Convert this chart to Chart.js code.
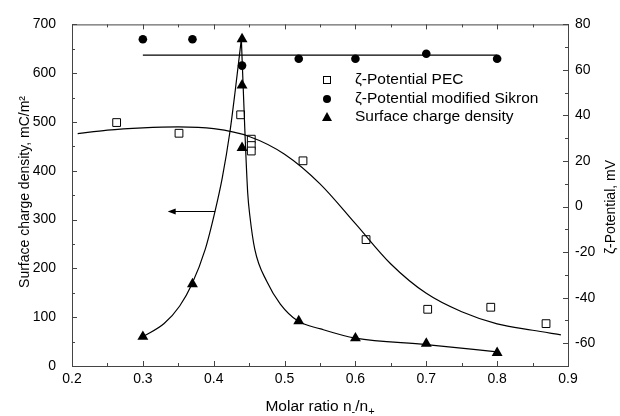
<!DOCTYPE html>
<html>
<head>
<meta charset="utf-8">
<script src="https://cdn.jsdelivr.net/npm/chart.js@4.4.1/dist/chart.umd.min.js"></script>
<style>
  html, body { margin: 0; padding: 0; background: #fff; }
  #wrap { width: 620px; height: 416px; position: relative; }
</style>
</head>
<body>
<div id="wrap"><canvas id="c" width="620" height="416"></canvas></div>
<script>
// ---- Data ----
const xTicks = [0.2, 0.3, 0.4, 0.5, 0.6, 0.7, 0.8, 0.9];
const leftTicks = [0, 100, 200, 300, 400, 500, 600, 700];
const rightTicks = [-60, -40, -20, 0, 20, 40, 60, 80];

// Surface charge density (left axis, mC/m2)
const chargeX = [0.30, 0.37, 0.44, 0.44, 0.44, 0.52, 0.60, 0.70, 0.80];
const chargeY = [60, 168, 670, 575, 447, 92, 57, 46, 27];
// fitted curve, left branch up to the peak and right branch down from it
const chargeLeftX = [0.30, 0.33, 0.352, 0.369, 0.388, 0.402, 0.412, 0.423, 0.430, 0.439];
const chargeLeftY = [60, 87, 123, 167, 239, 318, 385, 481, 560, 670];
const chargeRightX = [0.439, 0.444, 0.448, 0.451, 0.458, 0.475, 0.494, 0.519, 0.551, 0.60, 0.70, 0.80];
const chargeRightY = [670, 481, 354, 308, 239, 173, 127, 92, 76, 57, 44, 29];

// zeta-potential PEC (right axis, mV)
const pecX = [0.263, 0.351, 0.438, 0.453, 0.453, 0.453, 0.526, 0.615, 0.702, 0.791, 0.869];
const pecY = [36.9, 32.2, 40.3, 29.6, 26.8, 24.4, 20.1, -14.5, -45.1, -44.2, -51.4];
const pecFitX = [0.208, 0.25, 0.30, 0.35, 0.40, 0.45, 0.50, 0.55, 0.60, 0.65, 0.70, 0.75, 0.80, 0.85, 0.89];
const pecFitY = [32.0, 33.6, 34.6, 35.0, 34.2, 30.8, 23.0, 10.0, -7.5, -25.2, -38.1, -46.2, -51.5, -54.3, -56.3];

// zeta-potential modified Sikron (right axis, mV)
const sikX = [0.30, 0.37, 0.44, 0.52, 0.60, 0.70, 0.80];
const sikY = [73.5, 73.5, 61.9, 64.9, 64.9, 67.1, 64.9];
const sikFitX = [0.30, 0.80];
const sikFitY = [66.5, 66.5];

// arrow pointing to the left axis (left-axis units)
const arrowX = [0.402, 0.335];
const arrowY = [318, 318];

const legendLabels = ['\u03B6-Potential PEC', '\u03B6-Potential modified Sikron', 'Surface charge density'];

// ---- Chart ----
const FONT = '"Liberation Sans", Arial, Helvetica, sans-serif';
const pts = (xs, ys) => xs.map((x, i) => ({ x: x, y: ys[i] }));

Chart.defaults.font.family = FONT;
Chart.defaults.font.size = 14;
Chart.defaults.color = '#000';

const axisColor = '#444';

const decor = {
  id: 'decor',
  afterDraw(chart) {
    const ctx = chart.ctx;
    const a = chart.chartArea;
    const sx = chart.scales.x, sy = chart.scales.y, sr = chart.scales.y1;
    ctx.save();
    ctx.strokeStyle = axisColor;
    ctx.lineWidth = 1;
    // top border
    ctx.beginPath();
    ctx.moveTo(a.left, a.top + 0.5);
    ctx.lineTo(a.right, a.top + 0.5);
    ctx.stroke();
    // inward ticks
    ctx.beginPath();
    for (let i = 0; i <= 14; i++) {
      const v = 0.2 + i * 0.05;
      const px = Math.round(sx.getPixelForValue(v)) + 0.5;
      const L = i % 2 === 0 ? 5 : 3;
      ctx.moveTo(px, a.bottom); ctx.lineTo(px, a.bottom - L);
      ctx.moveTo(px, a.top); ctx.lineTo(px, a.top + L);
    }
    for (let v = 0; v <= 700; v += 50) {
      const py = Math.round(sy.getPixelForValue(v)) + 0.5;
      const L = v % 100 === 0 ? 5 : 3;
      ctx.moveTo(a.left, py); ctx.lineTo(a.left + L, py);
    }
    for (let v = -70; v <= 80; v += 10) {
      const py = Math.round(sr.getPixelForValue(v)) + 0.5;
      const L = v % 20 === 0 ? 5 : 3;
      ctx.moveTo(a.right, py); ctx.lineTo(a.right - L, py);
    }
    ctx.stroke();

    // arrow
    ctx.strokeStyle = '#000';
    const x0 = sx.getPixelForValue(arrowX[0]), x1 = sx.getPixelForValue(arrowX[1]);
    const y0 = Math.round(sy.getPixelForValue(arrowY[0])) + 0.5, y1 = y0;
    ctx.beginPath();
    ctx.moveTo(x0, y0); ctx.lineTo(x1 + 6, y1);
    ctx.stroke();
    ctx.fillStyle = '#000';
    ctx.beginPath();
    ctx.moveTo(x1, y1); ctx.lineTo(x1 + 8, y1 - 3); ctx.lineTo(x1 + 8, y1 + 3);
    ctx.closePath(); ctx.fill();

    // legend
    const lx = 327, ly = [80, 99, 117], tx = 355;
    ctx.lineWidth = 1;
    ctx.strokeStyle = '#000';
    ctx.fillStyle = '#fff';
    ctx.fillRect(lx - 4, ly[0] - 4, 8, 8);
    ctx.strokeRect(lx - 3.5, ly[0] - 3.5, 7, 7);
    ctx.fillStyle = '#000';
    ctx.beginPath(); ctx.arc(lx, ly[1], 4, 0, Math.PI * 2); ctx.fill();
    ctx.beginPath();
    ctx.moveTo(lx, ly[2] - 5); ctx.lineTo(lx + 5, ly[2] + 4); ctx.lineTo(lx - 5, ly[2] + 4);
    ctx.closePath(); ctx.fill();
    ctx.font = '15.5px ' + FONT;
    ctx.textBaseline = 'middle';
    ctx.textAlign = 'left';
    legendLabels.forEach((t, i) => ctx.fillText(t, tx, ly[i]));

    // axis titles
    ctx.font = '14px ' + FONT;
    ctx.save();
    ctx.translate(25, 192);
    ctx.rotate(-Math.PI / 2);
    ctx.textAlign = 'center';
    ctx.fillText('Surface charge density, mC/m\u00B2', 0, 0);
    ctx.restore();

    ctx.save();
    ctx.translate(611, 207);
    ctx.rotate(-Math.PI / 2);
    ctx.textAlign = 'center';
    ctx.fillText('\u03B6-Potential, mV', 0, 0);
    ctx.restore();

    // x title with subscripts
    const parts = [['Molar ratio n', 15.5, 0], ['-', 11, 5], ['/n', 15.5, 0], ['+', 11, 5]];
    let w = 0;
    parts.forEach(p => { ctx.font = p[1] + 'px ' + FONT; w += ctx.measureText(p[0]).width; });
    let cx = 320 - w / 2;
    const by = 407;
    ctx.textBaseline = 'middle';
    ctx.textAlign = 'left';
    parts.forEach(p => {
      ctx.font = p[1] + 'px ' + FONT;
      ctx.fillText(p[0], cx, by + p[2]);
      cx += ctx.measureText(p[0]).width;
    });
    ctx.restore();
  }
};

const lineDS = (label, data, axis) => ({
  label: label, data: data, yAxisID: axis, showLine: true, borderColor: '#000',
  borderWidth: 1.2, pointRadius: 0, cubicInterpolationMode: 'monotone', fill: false
});

new Chart(document.getElementById('c'), {
  type: 'scatter',
  data: {
    datasets: [
      lineDS('charge fit left', pts(chargeLeftX, chargeLeftY), 'y'),
      lineDS('charge fit right', pts(chargeRightX, chargeRightY), 'y'),
      lineDS('PEC fit', pts(pecFitX, pecFitY), 'y1'),
      lineDS('Sikron fit', pts(sikFitX, sikFitY), 'y1'),
      { label: legendLabels[0], data: pts(pecX, pecY), yAxisID: 'y1', pointStyle: 'rect',
        pointRadius: 5.5, backgroundColor: '#fff', borderColor: '#000', borderWidth: 1 },
      { label: legendLabels[1], data: pts(sikX, sikY), yAxisID: 'y1', pointStyle: 'circle',
        pointRadius: 4.3, backgroundColor: '#000', borderColor: '#000', borderWidth: 0 },
      { label: legendLabels[2], data: pts(chargeX, chargeY), yAxisID: 'y', pointStyle: 'triangle',
        pointRadius: 6.3, backgroundColor: '#000', borderColor: '#000', borderWidth: 0 }
    ]
  },
  options: {
    responsive: false,
    animation: false,
    events: [],
    layout: { padding: { top: 18, left: 0, right: 0, bottom: 0 } },
    plugins: { legend: { display: false }, tooltip: { enabled: false } },
    scales: {
      x: {
        type: 'linear', position: 'bottom', min: 0.2, max: 0.9,
        afterBuildTicks: s => { s.ticks = xTicks.map(v => ({ value: v })); },
        afterFit: s => { s.height = 50; },
        ticks: { callback: v => v.toFixed(1), padding: 5, maxRotation: 0, autoSkip: false },
        grid: { display: false, drawTicks: false },
        border: { display: true, color: axisColor }
      },
      y: {
        type: 'linear', position: 'left', min: 0, max: 700,
        afterBuildTicks: s => { s.ticks = leftTicks.map(v => ({ value: v })); },
        afterFit: s => { s.width = 72; },
        ticks: { padding: 16, autoSkip: false },
        grid: { display: false, drawTicks: false },
        border: { display: true, color: axisColor }
      },
      y1: {
        type: 'linear', position: 'right', min: -70, max: 80,
        afterBuildTicks: s => { s.ticks = rightTicks.map(v => ({ value: v })); },
        afterFit: s => { s.width = 52; },
        ticks: { padding: 7, autoSkip: false },
        grid: { display: false, drawTicks: false },
        border: { display: true, color: axisColor }
      }
    }
  },
  plugins: [decor]
});
</script>
</body>
</html>
